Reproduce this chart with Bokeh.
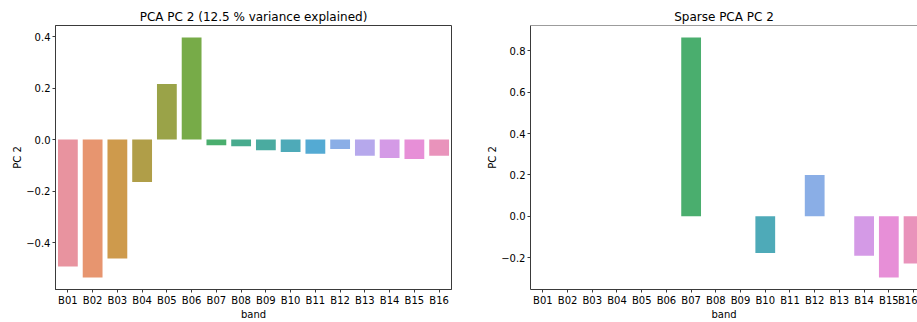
from bokeh.plotting import figure
from bokeh.layouts import row
from bokeh.models import Range1d, FixedTicker, ColumnDataSource, Span
from bokeh.embed import file_html
from bokeh.resources import INLINE

bands = ["B01", "B02", "B03", "B04", "B05", "B06", "B07", "B08",
         "B09", "B10", "B11", "B12", "B13", "B14", "B15", "B16"]
pca_pc2 = [-0.493, -0.536, -0.462, -0.165, 0.216, 0.397, -0.022, -0.026,
           -0.041, -0.048, -0.055, -0.036, -0.063, -0.071, -0.075, -0.063]
sparse_pc2 = [0.0, 0.0, 0.0, 0.0, 0.0, 0.0, 0.864, 0.0,
              0.0, -0.178, 0.0, 0.199, 0.0, -0.191, -0.296, -0.228]
colors = ["#e8939f", "#e7956f", "#ce9a4c", "#b09e48", "#9aa348", "#77ab48",
          "#4aae6e", "#48ab8e", "#4aaba0", "#4eaab8", "#54aad3", "#8aaee6",
          "#b6a8ec", "#d49ae6", "#e78fd7", "#e993bb"]
left_ticks = [-0.4, -0.2, 0.0, 0.2, 0.4]
left_tick_labels = ["\u22120.4", "\u22120.2", "0.0", "0.2", "0.4"]
right_ticks = [-0.2, 0.0, 0.2, 0.4, 0.6, 0.8]
right_tick_labels = ["\u22120.2", "0.0", "0.2", "0.4", "0.6", "0.8"]

FONT = "DejaVu Sans"
SPINE = "#3a3a3a"


def yrange(vals):
    lo = min(min(vals), 0.0)
    hi = max(max(vals), 0.0)
    m = (hi - lo) * 0.05
    return Range1d(lo - m, hi + m)


def make(title, vals, ticks, tick_labels, width, x_end, mbl, mbr):
    idx = list(range(len(bands)))
    src = ColumnDataSource(dict(x=idx, top=vals, color=colors))
    p = figure(width=width, height=322, output_backend="svg", toolbar_location=None,
               x_range=Range1d(-0.5, x_end), y_range=yrange(vals),
               min_border_left=mbl, min_border_right=mbr,
               min_border_top=25, min_border_bottom=32)
    p.vbar(x="x", top="top", bottom=0, width=0.8, fill_color="color",
           line_color=None, source=src)
    p.title.text = title
    p.title.align = "center"
    p.title.text_font = FONT
    p.title.text_font_size = "12px"
    p.title.text_font_style = "normal"
    p.title.text_color = "black"
    p.title.standoff = 4
    p.xgrid.visible = False
    p.ygrid.visible = False
    p.background_fill_color = "white"
    p.border_fill_color = "white"
    p.xaxis.ticker = FixedTicker(ticks=idx)
    p.xaxis.major_label_overrides = {i: b for i, b in zip(idx, bands)}
    p.yaxis.ticker = FixedTicker(ticks=ticks)
    p.yaxis.major_label_overrides = {t: l for t, l in zip(ticks, tick_labels)}
    p.xaxis.axis_label = "band"
    p.yaxis.axis_label = "PC 2"
    for ax in (p.xaxis, p.yaxis):
        ax.major_label_text_font = FONT
        ax.major_label_text_font_size = "10px"
        ax.major_label_text_color = "black"
        ax.axis_label_text_font = FONT
        ax.axis_label_text_font_size = "10px"
        ax.axis_label_text_font_style = "normal"
        ax.axis_label_text_color = "black"
        ax.major_tick_out = 3
        ax.major_tick_in = 0
        ax.minor_tick_line_color = None
        ax.major_tick_line_color = SPINE
        ax.axis_line_color = SPINE
        ax.major_label_standoff = 2
        ax.axis_label_standoff = 0
    return p


left = make("PCA PC 2 (12.5 % variance explained)", pca_pc2, left_ticks,
            left_tick_labels, 480, 15.5, 55, 29)
left.outline_line_color = SPINE
left.outline_line_alpha = 1.0

right = make("Sparse PCA PC 2", sparse_pc2, right_ticks, right_tick_labels,
             437, 15.16, 50, 0)
right.outline_line_color = None
right.title.offset = 4
right.add_layout(Span(location=right.y_range.end, dimension="width",
                      line_color=SPINE, line_width=1))

layout = row(left, right)
open("out.html", "w").write(file_html(layout, INLINE))
